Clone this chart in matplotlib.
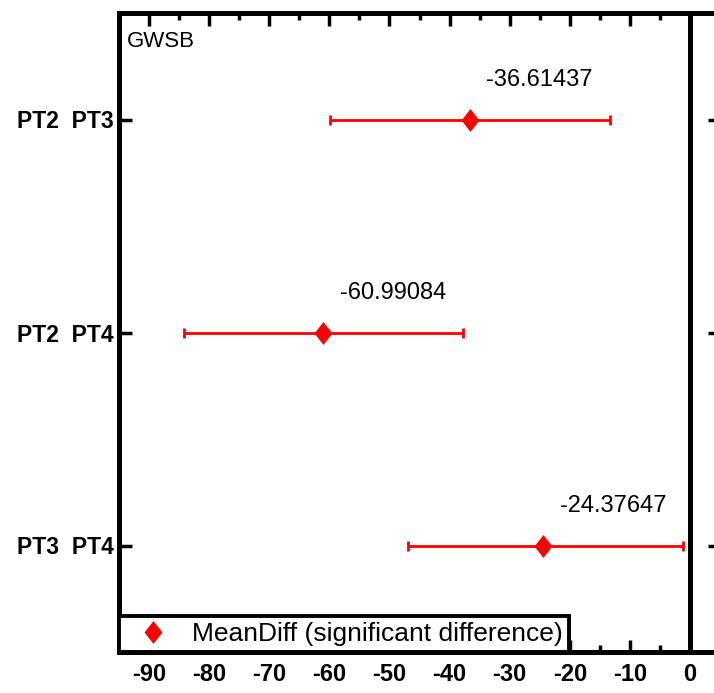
import matplotlib
matplotlib.use("Agg")
import matplotlib.pyplot as plt
from matplotlib.ticker import MultipleLocator
import numpy as np

# comparisons, top to bottom
pairs = ["PT2  PT3", "PT2  PT4", "PT3  PT4"]
mean_diff = [-36.61437, -60.99084, -24.37647]
lower = [-59.85, -84.23, -46.90]
upper = [-13.37, -37.75, -1.20]
panel = "GWSB"

plt.rcParams['font.family'] = ['Liberation Sans', 'DejaVu Sans']
plt.rcParams['axes.unicode_minus'] = False

fig = plt.figure(figsize=(7.14, 6.93), dpi=100)
ax = fig.add_axes([119/714, 1 - 652/693, 601/714, 639/693])

ypos = np.arange(len(pairs), 0, -1)
md = np.array(mean_diff)
err = np.vstack([md - np.array(lower), np.array(upper) - md])

# tall diamond
diamond = [(0, 1), (0.78, 0), (0, -1), (-0.78, 0), (0, 1)]

ax.errorbar(md, ypos, xerr=err, fmt='none', ecolor='#ff0000',
            elinewidth=2.0, capsize=3.5, capthick=2.0, zorder=2)
ax.plot(md, ypos, linestyle='none', marker=diamond, markersize=16.5,
        color='#ff0000', markeredgewidth=0, zorder=3,
        label='MeanDiff (significant difference)')

for x, y in zip(mean_diff, ypos):
    ax.annotate(f"{x:.5f}", (x, y), xytext=(50, 24), textcoords='offset points',
                ha='center', va='baseline', fontsize=17)

ax.axvline(0, color='black', linewidth=3.6, zorder=1)

ax.set_xlim(-95, 5)
ax.set_ylim(0.5, 3.5)
ax.set_yticks(ypos)
ax.set_yticklabels(pairs, fontsize=16.5, fontweight='bold')
ax.xaxis.set_major_locator(MultipleLocator(10))
ax.xaxis.set_minor_locator(MultipleLocator(5))
for lab in ax.get_xticklabels():
    lab.set_fontsize(17)
    lab.set_fontweight('bold')

ax.tick_params(axis='both', which='major', direction='in', length=9, width=2.5,
               top=True, right=True)
ax.tick_params(axis='x', which='minor', direction='in', length=5, width=2.5,
               top=True, bottom=True)
ax.tick_params(axis='x', which='major', pad=8)
ax.tick_params(axis='y', which='major', pad=4)
for s in ax.spines.values():
    s.set_linewidth(3.6)

ax.text(0.013, 0.947, panel, transform=ax.transAxes, ha='left', va='baseline',
        fontsize=16)

leg = ax.legend(loc='lower left', bbox_to_anchor=(0, 0), borderaxespad=0,
                fancybox=False, edgecolor='black', fontsize=19, framealpha=1,
                handlelength=2.1, handletextpad=0.45, borderpad=0.22,
                handleheight=0.7)
leg.get_frame().set_linewidth(2.8)

fig.savefig("out.png", dpi=100)
